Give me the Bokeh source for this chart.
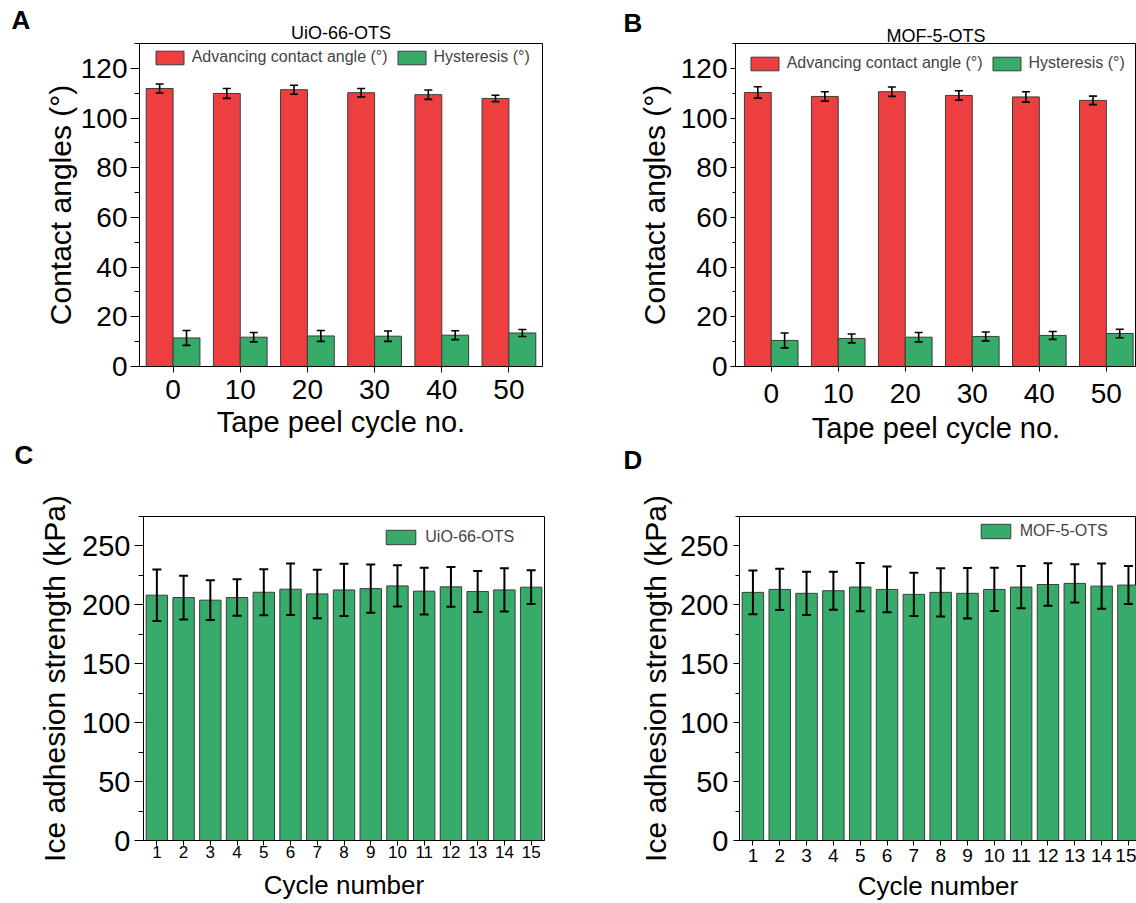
from bokeh.plotting import figure
from bokeh.models import (ColumnDataSource, Range1d, FixedTicker, SingleIntervalTicker,
                          Whisker, TeeHead, Legend, LegendItem, Title, LinearAxis)
from bokeh.transform import dodge
from bokeh.layouts import column, row
from bokeh.embed import file_html
from bokeh.resources import INLINE

# ---------------- data ----------------
peel_cycles = [0, 10, 20, 30, 40, 50]

uio_adv = [111.9, 109.9, 111.4, 110.2, 109.4, 107.9]
uio_adv_err = [1.8, 2.0, 1.8, 1.7, 1.9, 1.3]
uio_hyst = [11.5, 11.8, 12.3, 12.2, 12.6, 13.5]
uio_hyst_err = [3.0, 1.9, 2.2, 2.1, 1.8, 1.4]

mof_adv = [110.3, 108.7, 110.6, 109.1, 108.5, 107.1]
mof_adv_err = [2.3, 1.9, 1.9, 1.9, 2.1, 1.7]
mof_hyst = [10.5, 11.3, 11.8, 12.1, 12.5, 13.3]
mof_hyst_err = [3.0, 1.8, 1.9, 1.8, 1.6, 1.7]

ice_cycles = [1, 2, 3, 4, 5, 6, 7, 8, 9, 10, 11, 12, 13, 14, 15]
uio_ice = [208.2, 206.2, 204.0, 206.2, 210.7, 213.3, 209.3, 212.7, 213.8, 216.1,
           211.6, 215.3, 211.3, 212.7, 215.0]
uio_ice_err = [21.9, 18.6, 16.8, 15.5, 19.6, 21.8, 20.6, 22.2, 20.5, 17.5,
               19.8, 16.8, 17.4, 18.4, 14.3]
mof_ice = [210.6, 213.1, 209.8, 212.0, 215.1, 213.1, 208.9, 210.6, 209.8, 213.1,
           215.1, 217.3, 218.2, 215.9, 216.8]
mof_ice_err = [18.6, 17.5, 18.3, 16.2, 20.5, 19.4, 18.4, 20.4, 21.4, 18.4,
               17.9, 18.0, 16.2, 19.3, 16.1]

name_a = "UiO-66-OTS"
name_b = "MOF-5-OTS"
adv_label = "Advancing contact angle (°)"
hyst_label = "Hysteresis (°)"

# ---------------- style ----------------
FONT = "Liberation Sans"
RED = "#EE3F40"
GREEN = "#37AB69"
EDGE = "#3C3C3C"


def lo(vals, errs):
    return [v - e for v, e in zip(vals, errs)]


def hi(vals, errs):
    return [v + e for v, e in zip(vals, errs)]


def base_fig(width, height, xr, yr, bl, br, bt, bb):
    p = figure(width=width, height=height, x_range=xr, y_range=yr,
               output_backend="svg", toolbar_location=None, title_location=None,
               min_border_left=bl, min_border_right=br,
               min_border_top=bt, min_border_bottom=bb)
    p.xgrid.visible = False
    p.ygrid.visible = False
    p.outline_line_color = "black"
    p.outline_line_width = 1
    p.outline_line_alpha = 1
    for ax in (p.below[0], p.left[0]):
        ax.axis_line_color = "black"
        ax.axis_line_width = 1
        ax.major_tick_line_color = "black"
        ax.minor_tick_line_color = "black"
        ax.major_tick_in = 0
        ax.minor_tick_in = 0
        ax.major_label_text_font = FONT
        ax.axis_label_text_font = FONT
        ax.axis_label_text_font_style = "normal"
        ax.major_label_text_color = "black"
        ax.axis_label_text_color = "black"
    p.below[0].minor_tick_line_color = None
    return p


def add_whisker(p, src, base, upper, lower, lw, size):
    w = Whisker(base=base, upper=upper, lower=lower, source=src, level="overlay",
                line_color="black", line_width=lw,
                upper_head=TeeHead(size=size, line_color="black", line_width=lw),
                lower_head=TeeHead(size=size, line_color="black", line_width=lw))
    p.add_layout(w)


def letter(text, offset, standoff):
    return Title(text=text, align="left", offset=offset, standoff=standoff,
                 text_font=FONT, text_font_style="bold", text_font_size="26px",
                 text_color="black")


def spacer(standoff):
    return Title(text=" ", standoff=standoff, text_font=FONT, text_font_size="16px",
                 text_alpha=0)


def name_axis(text, standoff):
    return LinearAxis(ticker=FixedTicker(ticks=[]), axis_label=text,
                      axis_label_standoff=standoff, axis_line_color=None,
                      major_tick_out=0, minor_tick_out=0, major_tick_in=0, minor_tick_in=0,
                      major_label_standoff=0, major_tick_line_color=None,
                      minor_tick_line_color=None, axis_label_text_font=FONT,
                      axis_label_text_font_size="18px", axis_label_text_font_style="normal",
                      axis_label_text_color="black")


def contact_panel(adv, adv_err, hyst, hyst_err, width, x_start, x_end,
                  bl, br, legend_loc, ytick_out, yminor_out, ytick_standoff,
                  ylab_standoff, xtick_out, xtick_standoff, xlab_standoff):
    p = base_fig(width, 488, Range1d(x_start, x_end), Range1d(0, 130), bl, br, 43, 122)
    src = ColumnDataSource(dict(cycle=peel_cycles, adv=adv, hyst=hyst,
                                adv_lo=lo(adv, adv_err), adv_hi=hi(adv, adv_err),
                                hyst_lo=lo(hyst, hyst_err), hyst_hi=hi(hyst, hyst_err)))
    r1 = p.vbar(x=dodge("cycle", -2), top="adv", width=4, source=src,
                fill_color=RED, line_color=EDGE, line_width=1)
    r2 = p.vbar(x=dodge("cycle", 2), top="hyst", width=4, source=src,
                fill_color=GREEN, line_color=EDGE, line_width=1)
    add_whisker(p, src, dodge("cycle", -2), "adv_hi", "adv_lo", 1.6, 8)
    add_whisker(p, src, dodge("cycle", 2), "hyst_hi", "hyst_lo", 1.6, 8)

    xa, ya = p.below[0], p.left[0]
    xa.ticker = FixedTicker(ticks=peel_cycles)
    ya.ticker = SingleIntervalTicker(interval=20, num_minor_ticks=2)
    xa.major_tick_out = xtick_out
    ya.major_tick_out = ytick_out
    ya.minor_tick_out = yminor_out
    xa.major_label_text_font_size = "28px"
    ya.major_label_text_font_size = "28px"
    xa.major_label_standoff = xtick_standoff
    ya.major_label_standoff = ytick_standoff
    xa.axis_label = "Tape peel cycle no."
    ya.axis_label = "Contact angles (°)"
    xa.axis_label_text_font_size = "29px"
    ya.axis_label_text_font_size = "30px"
    xa.axis_label_standoff = xlab_standoff
    ya.axis_label_standoff = ylab_standoff

    leg = Legend(items=[LegendItem(label=adv_label, renderers=[r1]),
                        LegendItem(label=hyst_label, renderers=[r2])],
                 orientation="horizontal", location=legend_loc, padding=0, margin=0,
                 spacing=6, label_standoff=5, glyph_width=35, glyph_height=17,
                 label_height=17, label_text_font=FONT, label_text_font_size="16px",
                 border_line_color=None, background_fill_alpha=0)
    p.add_layout(leg)
    return p


def ice_panel(vals, errs, width, x_start, x_end, bl, br, legend_loc, name,
              xtick_size, ytick_out, yminor_out, ytick_standoff, ylab_standoff,
              xtick_standoff, xlab_standoff):
    p = base_fig(width, 415, Range1d(x_start, x_end), Range1d(0, 275), bl, br, 28, 63)
    src = ColumnDataSource(dict(cycle=ice_cycles, val=vals,
                                v_lo=lo(vals, errs), v_hi=hi(vals, errs)))
    r = p.vbar(x="cycle", top="val", width=0.8, source=src,
               fill_color=GREEN, line_color=EDGE, line_width=1)
    add_whisker(p, src, "cycle", "v_hi", "v_lo", 2, 9)

    xa, ya = p.below[0], p.left[0]
    xa.ticker = FixedTicker(ticks=ice_cycles)
    ya.ticker = SingleIntervalTicker(interval=50, num_minor_ticks=2)
    xa.major_tick_out = 5
    ya.major_tick_out = ytick_out
    ya.minor_tick_out = yminor_out
    xa.major_label_text_font_size = xtick_size
    ya.major_label_text_font_size = "29px"
    xa.major_label_standoff = xtick_standoff
    ya.major_label_standoff = ytick_standoff
    xa.axis_label = "Cycle number"
    ya.axis_label = "Ice adhesion strength (kPa)"
    xa.axis_label_text_font_size = "26px"
    ya.axis_label_text_font_size = "30px"
    xa.axis_label_standoff = xlab_standoff
    ya.axis_label_standoff = ylab_standoff

    leg = Legend(items=[LegendItem(label=name, renderers=[r])],
                 orientation="horizontal", location=legend_loc, padding=0, margin=0,
                 label_standoff=6, glyph_width=37, glyph_height=18, label_height=18,
                 label_text_font=FONT, label_text_font_size="16px",
                 border_line_color=None, background_fill_alpha=0)
    p.add_layout(leg)
    return p


# Panel A: frame x 139..542, y 43..366
pA = contact_panel(uio_adv, uio_adv_err, uio_hyst, uio_hyst_err, 600, -5, 55,
                   139, 58, (12.7, 299.7), 9, 5, 3, 1, 6, 7, 4)
pA.add_layout(name_axis(name_a, 1), "above")
pA.add_layout(letter("A", -128, -30.0), "above")
pA.add_layout(spacer(1.0), "above")
pA.add_layout(letter("C", -125, -3.8), "below")
pA.add_layout(spacer(-5.8), "below")

# Panel B: frame x 735..1136, y 43..366
pB = contact_panel(mof_adv, mof_adv_err, mof_hyst, mof_hyst_err, 536, -5.33, 54.5,
                   135, 0, (11.7, 293.7), 5, 3, 3, 7, 5, 12, 6)
pB.add_layout(name_axis(name_b, -2), "above")
pB.add_layout(letter("B", -112, -30.0), "above")
pB.add_layout(spacer(4.0), "above")
pB.add_layout(letter("D", -112, -5.8), "below")
pB.add_layout(spacer(-9.8), "below")

# Panel C: frame x 143..544, y 516..840
pC = ice_panel(uio_ice, uio_ice_err, 600, 0.5, 15.5, 143, 56, (239.3, 293.7), name_a,
               "17px", 9, 5, 4, 8, 0, 9)

# Panel D: frame x 739..1136, y 516..840
pD = ice_panel(mof_ice, mof_ice_err, 536, 0.5, 15.3, 139, 0, (237.7, 299.7), name_b,
               "19px", 6, 4, 5, 5, 3, 6)

layout = column(row(pA, pB), row(pC, pD))
open("out.html", "w").write(file_html(layout, INLINE))
